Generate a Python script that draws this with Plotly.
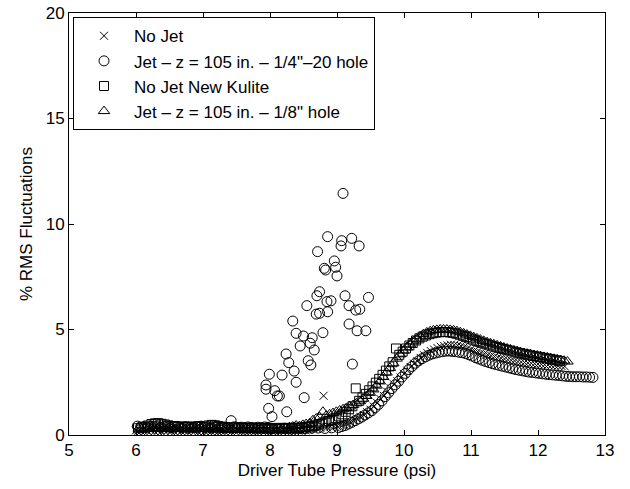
import plotly.graph_objects as go

# ---------------- data ----------------
nojet_x = [6.00, 6.05, 6.10, 6.15, 6.20, 6.25, 6.30, 6.35, 6.40, 6.45,
           6.50, 6.55, 6.60, 6.65, 6.70, 6.75, 6.80, 6.85, 6.90, 6.95,
           7.00, 7.05, 7.10, 7.15, 7.20, 7.25, 7.30, 7.35, 7.40, 7.45,
           7.50, 7.55, 7.60, 7.65, 7.70, 7.75, 7.80, 7.85, 7.90, 7.95,
           8.00, 8.05, 8.10, 8.15, 8.20, 8.25, 8.30, 8.35, 8.40, 8.45,
           8.50, 8.55, 8.60, 8.65, 8.70, 8.75, 8.80, 8.85, 8.90, 8.95,
           9.00, 9.05, 9.10, 9.15, 9.20, 9.25, 9.30, 9.35, 9.40, 9.45,
           9.50, 9.55, 9.60, 9.65, 9.70, 9.75, 9.80, 9.85, 9.90, 9.95,
           10.00, 10.05, 10.10, 10.15, 10.20, 10.25, 10.30, 10.35, 10.40, 10.45,
           10.50, 10.55, 10.60, 10.65, 10.70, 10.75, 10.80, 10.85, 10.90, 10.95,
           11.00, 11.05, 11.10, 11.15, 11.20, 11.25, 11.30, 11.35, 11.40, 11.45,
           11.50, 11.55, 11.60, 11.65, 11.70, 11.75, 11.80, 11.85, 11.90, 11.95,
           12.00, 12.05, 12.10, 12.15, 12.20, 12.25, 12.30, 12.35, 12.40,
           6.025, 6.075, 6.125, 6.175, 6.225, 6.275, 6.325, 6.375, 6.425, 6.475,
           6.525, 6.575, 6.625, 6.675, 6.725, 6.775, 6.825, 6.875, 6.925, 6.975,
           7.025, 7.075, 7.125, 7.175, 7.225, 7.275, 7.325, 7.375, 7.425, 7.475,
           7.525, 7.575, 7.625, 7.675, 7.725, 7.775, 7.825, 7.875, 7.925, 7.975,
           8.025, 8.075, 8.125, 8.175, 8.225, 8.275, 8.325, 8.375, 8.425, 8.475,
           8.525, 8.575]
nojet_y = [0.22, 0.25, 0.28, 0.24, 0.30, 0.27, 0.32, 0.26, 0.29, 0.31,
           0.27, 0.25, 0.30, 0.28, 0.26, 0.24, 0.29, 0.27, 0.25, 0.30,
           0.26, 0.23, 0.28, 0.25, 0.27, 0.24, 0.22, 0.26, 0.28, 0.25,
           0.23, 0.27, 0.24, 0.26, 0.22, 0.25, 0.27, 0.24, 0.23, 0.26,
           0.25, 0.22, 0.27, 0.24, 0.26, 0.23, 0.25, 0.28, 0.24, 0.27,
           0.26, 0.29, 0.30, 0.32, 0.30, 0.34, 1.86, 0.36, 0.40, 0.38,
           0.42, 0.48, 0.52, 0.58, 0.62, 0.70, 0.78, 0.86, 0.95, 1.08,
           1.20, 1.35, 1.52, 1.70, 1.85, 2.05, 2.22, 2.40, 2.55, 2.72,
           2.90, 3.05, 3.22, 3.38, 3.50, 3.65, 3.78, 3.88, 3.98, 4.05,
           4.12, 4.18, 4.22, 4.25, 4.28, 4.27, 4.25, 4.22, 4.18, 4.12,
           4.06, 4.00, 3.95, 3.90, 3.85, 3.80, 3.76, 3.72, 3.68, 3.64,
           3.60, 3.57, 3.54, 3.51, 3.48, 3.46, 3.44, 3.42, 3.40, 3.38,
           3.36, 3.35, 3.33, 3.32, 3.30, 3.29, 3.28, 3.27, 3.25,
           0.16, 0.19, 0.15, 0.18, 0.21, 0.17, 0.20, 0.16, 0.19, 0.22,
           0.18, 0.15, 0.20, 0.17, 0.19, 0.16, 0.21, 0.18, 0.15, 0.19,
           0.17, 0.20, 0.16, 0.18, 0.15, 0.19, 0.17, 0.21, 0.16, 0.18,
           0.20, 0.15, 0.18, 0.16, 0.19, 0.17, 0.15, 0.20, 0.18, 0.16,
           0.19, 0.17, 0.15, 0.18, 0.20, 0.16, 0.19, 0.17, 0.21, 0.18,
           0.22, 0.24]

jet14_x = [6.02, 6.07, 6.12, 6.17, 6.22, 6.27, 6.32, 6.37, 6.42, 6.47,
           6.52, 6.57, 6.62, 6.67, 6.72, 6.77, 6.82, 6.87, 6.92, 6.97,
           7.02, 7.07, 7.12, 7.17, 7.22, 7.27, 7.32, 7.37, 7.42, 7.47,
           7.52, 7.57, 7.62, 7.67, 7.72, 7.77, 7.82, 7.87, 7.92, 7.97,
           8.02, 8.12, 8.22, 8.32, 8.42, 8.52, 8.62, 8.72, 8.82, 8.92,
           9.09, 8.86, 9.07, 9.22, 9.33, 9.06, 8.71, 8.96, 8.81, 8.83,
           8.98, 9.00, 8.74, 8.70, 9.12, 9.47, 8.55, 8.85, 8.91, 8.69,
           8.74, 8.86, 9.18, 9.28, 9.34, 9.18, 9.30, 9.43, 8.34, 8.79,
           8.39, 8.50, 8.63, 8.45, 8.60, 8.66, 8.24, 8.28, 8.57, 8.61,
           9.23, 8.18, 8.36, 7.99, 8.39, 7.94, 7.94, 8.07, 8.11, 8.14,
           8.51, 7.98, 8.25, 8.03,
           9.02, 9.07, 9.12, 9.17, 9.22, 9.27, 9.32, 9.37, 9.42, 9.47,
           9.52, 9.57, 9.62, 9.67, 9.72, 9.77, 9.82, 9.87, 9.92, 9.97,
           10.02, 10.07, 10.12, 10.17, 10.22, 10.27, 10.32, 10.37, 10.42, 10.47,
           10.52, 10.57, 10.62, 10.67, 10.72, 10.77, 10.82, 10.87, 10.92, 10.97,
           11.02, 11.07, 11.12, 11.17, 11.22, 11.27, 11.32, 11.37, 11.42, 11.47,
           11.52, 11.57, 11.62, 11.67, 11.72, 11.77, 11.82, 11.87, 11.92, 11.97,
           12.02, 12.07, 12.12, 12.17, 12.22, 12.27, 12.32, 12.37, 12.42, 12.47,
           12.52, 12.57, 12.62, 12.67, 12.72, 12.77, 12.82]
jet14_y = [0.42, 0.38, 0.40, 0.36, 0.41, 0.39, 0.43, 0.37, 0.40, 0.38,
           0.35, 0.39, 0.41, 0.36, 0.38, 0.40, 0.37, 0.35, 0.39, 0.42,
           0.36, 0.38, 0.34, 0.37, 0.40, 0.35, 0.38, 0.36, 0.68, 0.39,
           0.35, 0.37, 0.34, 0.38, 0.36, 0.33, 0.37, 0.35, 0.38, 0.36,
           0.32, 0.30, 0.33, 0.29, 0.31, 0.30, 0.32, 0.33, 0.31, 0.34,
           11.45, 9.40, 9.21, 9.32, 8.96, 8.96, 8.69, 8.25, 7.90, 7.82,
           7.95, 7.54, 6.79, 6.60, 6.60, 6.52, 6.13, 6.32, 6.36, 5.73,
           5.77, 5.84, 6.13, 5.92, 5.96, 5.26, 4.94, 4.94, 5.40, 4.85,
           4.82, 4.69, 4.61, 4.22, 4.35, 4.03, 3.84, 3.43, 3.52, 3.32,
           3.36, 2.84, 3.03, 2.88, 2.50, 2.37, 2.17, 2.10, 1.85, 1.85,
           1.77, 1.26, 1.10, 0.87,
           0.35, 0.40, 0.45, 0.52, 0.60, 0.68, 0.76, 0.85, 0.95, 1.05,
           1.15, 1.30, 1.45, 1.62, 1.82, 2.00, 2.20, 2.38, 2.55, 2.75,
           2.92, 3.10, 3.25, 3.40, 3.52, 3.62, 3.70, 3.78, 3.84, 3.88,
           3.92, 3.95, 3.97, 3.98, 3.96, 3.95, 3.92, 3.90, 3.86, 3.80,
           3.74, 3.66, 3.60, 3.54, 3.48, 3.43, 3.38, 3.34, 3.30, 3.26,
           3.22, 3.18, 3.14, 3.10, 3.07, 3.04, 3.01, 2.98, 2.96, 2.94,
           2.92, 2.90, 2.88, 2.86, 2.85, 2.83, 2.82, 2.80, 2.78, 2.77,
           2.76, 2.76, 2.76, 2.75, 2.75, 2.74, 2.73]

kulite_x = [6.03, 6.08, 6.13, 6.18, 6.23, 6.28, 6.33, 6.38, 6.43, 6.48,
            6.53, 6.58, 6.63, 6.68, 6.73, 6.78, 6.83, 6.88, 6.93, 6.98,
            7.03, 7.08, 7.13, 7.18, 7.23, 7.28, 7.33, 7.38, 7.43, 7.48,
            7.53, 7.58, 7.63, 7.68, 7.73, 7.78, 7.83, 7.88, 7.93, 7.98,
            8.03, 8.08, 8.13, 8.18, 8.23, 8.28, 8.33, 8.38, 8.43, 8.48,
            8.53, 8.58,
            8.63, 8.68, 8.73, 8.78, 8.83, 8.88, 8.93, 8.98, 9.03, 9.08,
            9.13, 9.18, 9.23, 9.28, 9.33, 9.38, 9.43, 9.48, 9.53, 9.58,
            9.63, 9.68, 9.73, 9.78, 9.83, 9.88, 9.93, 9.98, 10.03, 10.08,
            10.13, 10.18, 10.23, 10.28, 10.33, 10.38, 10.43, 10.48, 10.53, 10.58,
            10.63, 10.68, 10.73, 10.78, 10.83, 10.88, 10.93, 10.98, 11.03, 11.08,
            11.13, 11.18, 11.23, 11.28, 11.33, 11.38, 11.43, 11.48, 11.53, 11.58,
            11.63, 11.68, 11.73, 11.78, 11.83, 11.88, 11.93, 11.98, 12.03, 12.08,
            12.13, 12.18, 12.23, 12.28, 12.33]
kulite_y = [0.32, 0.35, 0.38, 0.45, 0.52, 0.55, 0.56, 0.53, 0.50, 0.46,
            0.42, 0.40, 0.38, 0.41, 0.37, 0.39, 0.36, 0.40, 0.42, 0.38,
            0.40, 0.45, 0.48, 0.46, 0.42, 0.38, 0.36, 0.34, 0.37, 0.35,
            0.33, 0.36, 0.34, 0.32, 0.35, 0.33, 0.31, 0.34, 0.32, 0.30,
            0.33, 0.31, 0.34, 0.32, 0.30, 0.33, 0.35, 0.32, 0.34, 0.36,
            0.38, 0.40,
            0.42, 0.45, 0.50, 0.55, 0.60, 0.66, 0.72, 0.80, 0.88, 0.98,
            1.10, 1.22, 1.36, 2.21, 1.62, 1.78, 1.95, 2.12, 2.30, 2.48,
            2.66, 2.85, 3.05, 3.25, 3.45, 4.10, 3.80, 3.95, 4.10, 4.24,
            4.36, 4.48, 4.58, 4.66, 4.72, 4.78, 4.82, 4.85, 4.87, 4.88,
            4.88, 4.86, 4.84, 4.80, 4.75, 4.70, 4.64, 4.58, 4.52, 4.46,
            4.40, 4.35, 4.30, 4.25, 4.20, 4.16, 4.12, 4.08, 4.04, 4.00,
            3.96, 3.92, 3.88, 3.85, 3.82, 3.78, 3.75, 3.72, 3.69, 3.66,
            3.63, 3.60, 3.57, 3.54, 3.50]

jet18_x = [6.04, 6.09, 6.14, 6.19, 6.24, 6.29, 6.34, 6.39, 6.44, 6.49,
           6.54, 6.59, 6.64, 6.69, 6.74, 6.79, 6.84, 6.89, 6.94, 6.99,
           7.04, 7.09, 7.14, 7.19, 7.24, 7.29, 7.34, 7.39, 7.44, 7.49,
           7.54, 7.59, 7.64, 7.69, 7.74, 7.79, 7.84, 7.89, 7.94, 7.99,
           8.04, 8.09, 8.14, 8.19, 8.24, 8.29, 8.34, 8.39, 8.44, 8.49,
           8.54, 8.59,
           8.64, 8.69, 8.74, 8.79, 8.84, 8.89, 8.94, 8.99, 9.04, 9.09,
           9.14, 9.19, 9.24, 9.29, 9.34, 9.39, 9.44, 9.49, 9.54, 9.59,
           9.64, 9.69, 9.74, 9.79, 9.84, 9.89, 9.94, 9.99, 10.04, 10.09,
           10.14, 10.19, 10.24, 10.29, 10.34, 10.39, 10.44, 10.49, 10.54, 10.59,
           10.64, 10.69, 10.74, 10.79, 10.84, 10.89, 10.94, 10.99, 11.04, 11.09,
           11.14, 11.19, 11.24, 11.29, 11.34, 11.39, 11.44, 11.49, 11.54, 11.59,
           11.64, 11.69, 11.74, 11.79, 11.84, 11.89, 11.94, 11.99, 12.04, 12.09,
           12.14, 12.19, 12.24, 12.29, 12.34, 12.39, 12.44]
jet18_y = [0.30, 0.28, 0.32, 0.35, 0.33, 0.30, 0.34, 0.31, 0.29, 0.33,
           0.31, 0.28, 0.30, 0.33, 0.29, 0.27, 0.31, 0.30, 0.28, 0.32,
           0.29, 0.27, 0.30, 0.28, 0.26, 0.29, 0.31, 0.28, 0.27, 0.30,
           0.28, 0.26, 0.29, 0.27, 0.30, 0.28, 0.26, 0.29, 0.27, 0.28,
           0.30, 0.28, 0.31, 0.29, 0.33, 0.36, 0.40, 0.45, 0.42, 0.48,
           0.52, 0.55,
           0.70, 0.78, 0.85, 1.10, 0.92, 0.98, 1.04, 1.10, 1.16, 1.22,
           1.28, 1.35, 1.42, 1.50, 1.60, 1.72, 1.85, 2.00, 2.16, 2.34,
           2.54, 2.75, 2.96, 3.18, 3.40, 3.62, 3.82, 4.00, 4.16, 4.30,
           4.44, 4.56, 4.68, 4.78, 4.86, 4.92, 4.96, 4.98, 5.00, 5.00,
           5.00, 4.98, 4.96, 4.92, 4.87, 4.82, 4.76, 4.70, 4.64, 4.58,
           4.52, 4.46, 4.40, 4.35, 4.30, 4.25, 4.20, 4.15, 4.10, 4.05,
           4.00, 3.96, 3.92, 3.88, 3.85, 3.82, 3.79, 3.76, 3.73, 3.70,
           3.67, 3.64, 3.61, 3.58, 3.55, 3.52, 3.48]

series_names = ["No Jet",
                "Jet – z = 105 in. – 1/4\"–20 hole",
                "No Jet New Kulite",
                "Jet – z = 105 in. – 1/8\" hole"]
x_ticks = [5, 6, 7, 8, 9, 10, 11, 12, 13]
y_ticks = [0, 5, 10, 15, 20]

# ---------------- figure ----------------
FONT = "Liberation Sans, Arial, sans-serif"
fig = go.Figure()
specs = [(nojet_x, nojet_y, "x-thin-open", 8),
         (jet14_x, jet14_y, "circle-open", 10),
         (kulite_x, kulite_y, "square-open", 9),
         (jet18_x, jet18_y, "triangle-up-open", 10)]
for (xs, ys, sym, sz), name in zip(specs, series_names):
    fig.add_trace(go.Scatter(
        x=xs, y=ys, mode="markers", name=name,
        marker=dict(symbol=sym, size=sz, color="black",
                    line=dict(color="black", width=1)),
    ))

axis_common = dict(showline=True, linecolor="black", linewidth=1, mirror="allticks",
                   ticks="inside", ticklen=5, tickwidth=1, tickcolor="black",
                   showgrid=False, zeroline=False, automargin=False,
                   tickfont=dict(family=FONT, size=17, color="black"))
fig.update_xaxes(range=[5, 13], tickvals=x_ticks,
                 title=dict(text="Driver Tube Pressure (psi)",
                            font=dict(family=FONT, size=17, color="black"), standoff=4),
                 **axis_common)
fig.update_yaxes(range=[0, 20], tickvals=y_ticks,
                 title=dict(text="% RMS Fluctuations",
                            font=dict(family=FONT, size=17, color="black"), standoff=8),
                 **axis_common)

fig.update_layout(
    width=630, height=489,
    margin=dict(l=69, r=25, t=13, b=54),
    paper_bgcolor="white", plot_bgcolor="white",
    font=dict(family=FONT, size=17, color="black"),
    showlegend=True,
    legend=dict(x=0.0075, y=0.99, xanchor="left", yanchor="top",
                bgcolor="white", bordercolor="black", borderwidth=1,
                itemwidth=50, font=dict(family=FONT, size=17, color="black"),
                tracegroupgap=0),
)

fig.write_html("out.html")
